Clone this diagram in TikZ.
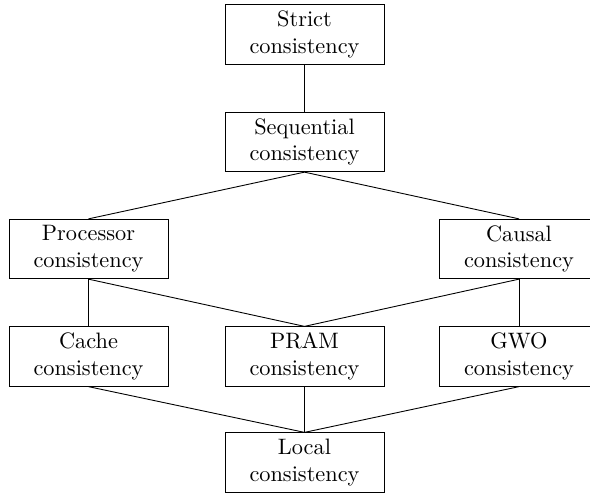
\documentclass[tikz,border=0pt]{standalone}
\begin{document}
\begin{tikzpicture}[x=0.448pt,y=-0.448pt,
  cbox/.style={draw,align=center,inner sep=2pt,minimum width=71.2pt,minimum height=26.6pt,font=\normalsize}]
\useasboundingbox (0,0) rectangle (590,493);
\node[cbox] (strict) at (304.5,34.5) {Strict\\consistency};
\node[cbox] (seq) at (304.5,142) {Sequential\\consistency};
\node[cbox] (proc) at (88.5,249) {Processor\\consistency};
\node[cbox] (causal) at (519,249) {Causal\\consistency};
\node[cbox] (cache) at (88.5,356.5) {Cache\\consistency};
\node[cbox] (pram) at (304.5,356.5) {PRAM\\consistency};
\node[cbox] (gwo) at (519,356.5) {GWO\\consistency};
\node[cbox] (local) at (304.5,462.5) {Local\\consistency};
\draw (strict.south) -- (seq.north);
\draw (seq.south) -- (proc.north);
\draw (seq.south) -- (causal.north);
\draw (proc.south) -- (cache.north);
\draw (proc.south) -- (pram.north);
\draw (causal.south) -- (pram.north);
\draw (causal.south) -- (gwo.north);
\draw (cache.south) -- (local.north);
\draw (pram.south) -- (local.north);
\draw (gwo.south) -- (local.north);
\end{tikzpicture}
\end{document}
